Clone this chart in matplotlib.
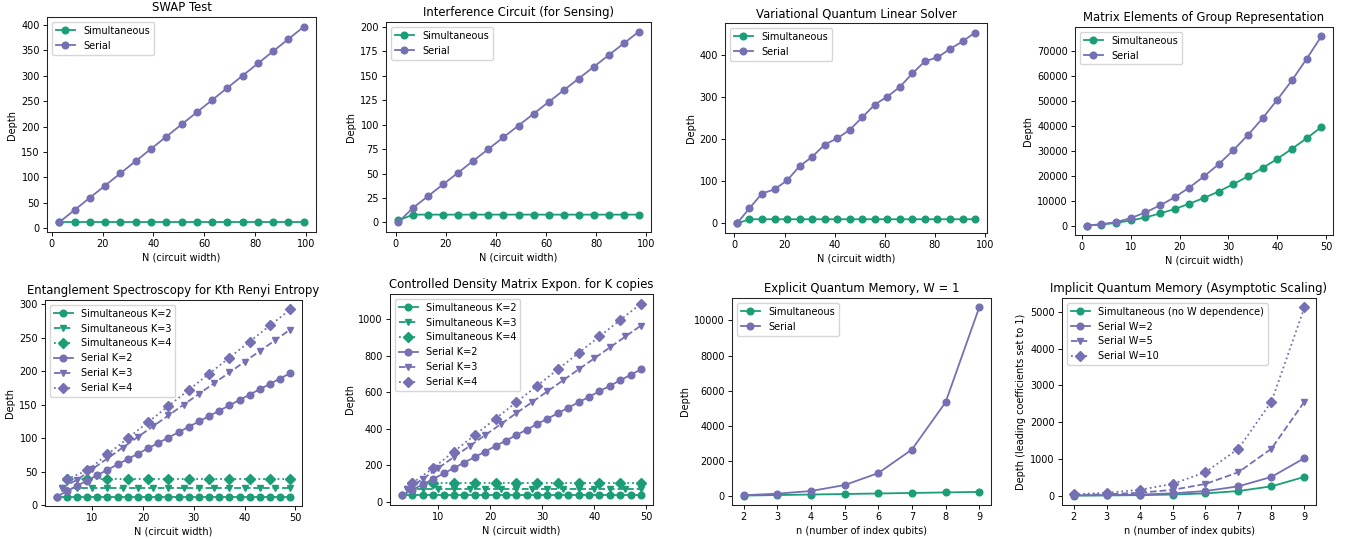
import matplotlib
matplotlib.use("Agg")
import matplotlib.pyplot as plt

# -------------------------
# Style (mpl 2.x defaults, shrunk ~0.7)
# -------------------------
plt.rcParams.update({
    "font.family": "DejaVu Sans",
    "font.size": 7,
    "axes.titlesize": 8.4,
    "axes.labelsize": 7,
    "xtick.labelsize": 7,
    "ytick.labelsize": 7,
    "legend.fontsize": 7,
    "lines.linewidth": 1.3,
    "lines.markersize": 4.8,
    "axes.linewidth": 0.75,
    "axes.edgecolor": "#222222",
    "xtick.major.size": 2.6,
    "ytick.major.size": 2.6,
    "xtick.major.width": 0.65,
    "ytick.major.width": 0.65,
    "xtick.major.pad": 2.5,
    "ytick.major.pad": 2.5,
    "axes.labelpad": 2.8,
    "axes.titlepad": 4.2,
})

GREEN = "#1b9e77"
PURPLE = "#7570b3"

# -------------------------
# Data
# -------------------------
# SWAP test
swap_n = [3, 9, 15, 21, 27, 33, 39, 45, 51, 57, 63, 69, 75, 81, 87, 93, 99]
swap_sim = [12, 12, 12, 12, 12, 12, 12, 12, 12, 12, 12, 12, 12, 12, 12, 12, 12]
swap_ser = [12, 36, 60, 84, 108, 132, 156, 180, 204, 228, 252, 276, 300, 324, 348, 372, 396]

# Interference circuit
intf_n = [1, 7, 13, 19, 25, 31, 37, 43, 49, 55, 61, 67, 73, 79, 85, 91, 97]
intf_sim = [2, 8, 8, 8, 8, 8, 8, 8, 8, 8, 8, 8, 8, 8, 8, 8, 8]
intf_ser = [0, 15, 27, 39, 51, 63, 75, 87, 99, 111, 123, 135, 147, 159, 171, 183, 195]

# VQLS
vqls_n = [1, 6, 11, 16, 21, 26, 31, 36, 41, 46, 51, 56, 61, 66, 71, 76, 81, 86, 91, 96]
vqls_sim = [0, 10, 10, 10, 10, 10, 10, 10, 10, 10, 10, 10, 10, 10, 10, 10, 10, 10, 10, 10]
vqls_ser = [0, 36, 71, 81, 102, 136, 158, 187, 202, 222, 252, 282, 301, 324, 356, 385,
            394, 414, 432, 453]

# Matrix elements of group representation
grp_n = [1, 4, 7, 10, 13, 16, 19, 22, 25, 28, 31, 34, 37, 40, 43, 46, 49]
grp_sim = [0, 400, 1080, 2030, 3240, 4860, 6620, 8780, 11080, 13650, 16620, 19730,
           23110, 26760, 30810, 35000, 39500]
grp_ser = [0, 540, 1350, 2970, 5270, 8100, 11350, 15270, 19730, 24600, 30270, 36350,
           43100, 50500, 58300, 66900, 75900]

# Entanglement spectroscopy
n_k2 = [3, 5, 7, 9, 11, 13, 15, 17, 19, 21, 23, 25, 27, 29, 31, 33, 35, 37, 39, 41,
        43, 45, 47, 49]
n_k3 = [4, 7, 10, 13, 16, 19, 22, 25, 28, 31, 34, 37, 40, 43, 46, 49]
n_k4 = [5, 9, 13, 17, 21, 25, 29, 33, 37, 41, 45, 49]

es_sim_k2 = [13] * len(n_k2)
es_sim_k3 = [26] * len(n_k3)
es_sim_k4 = [39] * len(n_k4)
es_ser_k2 = [13, 21, 29, 37, 45, 53, 61, 69, 77, 85, 93, 101, 109, 117, 125, 133, 141,
             149, 157, 165, 173, 181, 189, 197]
es_ser_k3 = [26, 38, 54, 70, 86, 102, 118, 134, 150, 166, 182, 198, 214, 230, 246, 262]
es_ser_k4 = [39, 52, 76, 100, 124, 148, 172, 196, 220, 244, 268, 292]

# Controlled density matrix exponentiation
dm_sim_k2 = [35] * len(n_k2)
dm_sim_k3 = [68] * len(n_k3)
dm_sim_k4 = [102] * len(n_k4)
dm_ser_k2 = [35, 65, 95, 125, 155, 185, 215, 245, 275, 305, 335, 365, 395, 425, 455,
             485, 515, 545, 575, 605, 635, 665, 695, 725]
dm_ser_k3 = [68, 125, 185, 245, 305, 365, 425, 485, 545, 605, 665, 725, 785, 845, 905, 965]
dm_ser_k4 = [102, 185, 275, 365, 455, 545, 635, 725, 815, 905, 995, 1085]

# Quantum memory
qm_n = [2, 3, 4, 5, 6, 7, 8, 9]
exp_sim = [40, 70, 100, 130, 160, 190, 220, 250]
exp_ser = [60, 150, 300, 640, 1320, 2660, 5350, 10740]

imp_sim = [4, 8, 16, 32, 64, 128, 256, 512]
imp_w2 = [8, 16, 32, 64, 128, 256, 512, 1024]
imp_w5 = [20, 40, 80, 160, 320, 640, 1280, 2560]
imp_w10 = [40, 80, 160, 320, 640, 1280, 2560, 5120]

# -------------------------
# Layout: axes boxes in pixels (left, right, top, bottom)
# -------------------------
W, H = 1347, 539
fig = plt.figure(figsize=(W / 100, H / 100), dpi=100)


def box(l, r, t, b):
    return fig.add_axes([l / W, 1 - b / H, (r - l) / W, (b - t) / H])


ax1 = box(47, 316, 17, 232)
ax2 = box(386, 651, 22, 232)
ax3 = box(725, 987, 23, 233)
ax4 = box(1075, 1333, 27, 235)
ax5 = box(45, 302, 300, 506)
ax6 = box(390, 653, 294, 505)
ax7 = box(732, 991, 298, 505)
ax8 = box(1062, 1316, 298, 505)

XLAB_N = "N (circuit width)"
XLAB_Q = "n (number of index qubits)"


def two_series(ax, x, sim, ser, title, xlabel):
    ax.plot(x, sim, "o-", color=GREEN, label="Simultaneous")
    ax.plot(x, ser, "o-", color=PURPLE, label="Serial")
    ax.set_title(title)
    ax.set_xlabel(xlabel)
    ax.set_ylabel("Depth")
    ax.legend(loc="upper left")


two_series(ax1, swap_n, swap_sim, swap_ser, "SWAP Test", XLAB_N)
two_series(ax2, intf_n, intf_sim, intf_ser, "Interference Circuit (for Sensing)", XLAB_N)
two_series(ax3, vqls_n, vqls_sim, vqls_ser, "Variational Quantum Linear Solver", XLAB_N)
two_series(ax4, grp_n, grp_sim, grp_ser, "Matrix Elements of Group Representation", XLAB_N)
two_series(ax7, qm_n, exp_sim, exp_ser, "Explicit Quantum Memory, W = 1", XLAB_Q)


def k_series(ax, sims, sers, title):
    styles = [("o", "-"), ("v", "--"), ("D", ":")]
    ns = [n_k2, n_k3, n_k4]
    for k, (mk, ls) in enumerate(styles):
        ax.plot(ns[k], sims[k], marker=mk, linestyle=ls, color=GREEN,
                label="Simultaneous K=%d" % (k + 2))
    for k, (mk, ls) in enumerate(styles):
        ax.plot(ns[k], sers[k], marker=mk, linestyle=ls, color=PURPLE,
                label="Serial K=%d" % (k + 2))
    ax.set_title(title)
    ax.set_xlabel(XLAB_N)
    ax.set_ylabel("Depth")
    ax.legend(loc="upper left")


k_series(ax5, [es_sim_k2, es_sim_k3, es_sim_k4], [es_ser_k2, es_ser_k3, es_ser_k4],
         "Entanglement Spectroscopy for Kth Renyi Entropy")
k_series(ax6, [dm_sim_k2, dm_sim_k3, dm_sim_k4], [dm_ser_k2, dm_ser_k3, dm_ser_k4],
         "Controlled Density Matrix Expon. for K copies")

# Implicit memory
ax8.plot(qm_n, imp_sim, "o-", color=GREEN, label="Simultaneous (no W dependence)")
ax8.plot(qm_n, imp_w2, "o-", color=PURPLE, label="Serial W=2")
ax8.plot(qm_n, imp_w5, "v--", color=PURPLE, label="Serial W=5")
ax8.plot(qm_n, imp_w10, "D:", color=PURPLE, label="Serial W=10")
ax8.set_title("Implicit Quantum Memory (Asymptotic Scaling)")
ax8.set_xlabel(XLAB_Q)
ax8.set_ylabel("Depth (leading coefficients set to 1)")
ax8.legend(loc="upper left")

fig.savefig("out.png", dpi=100)
